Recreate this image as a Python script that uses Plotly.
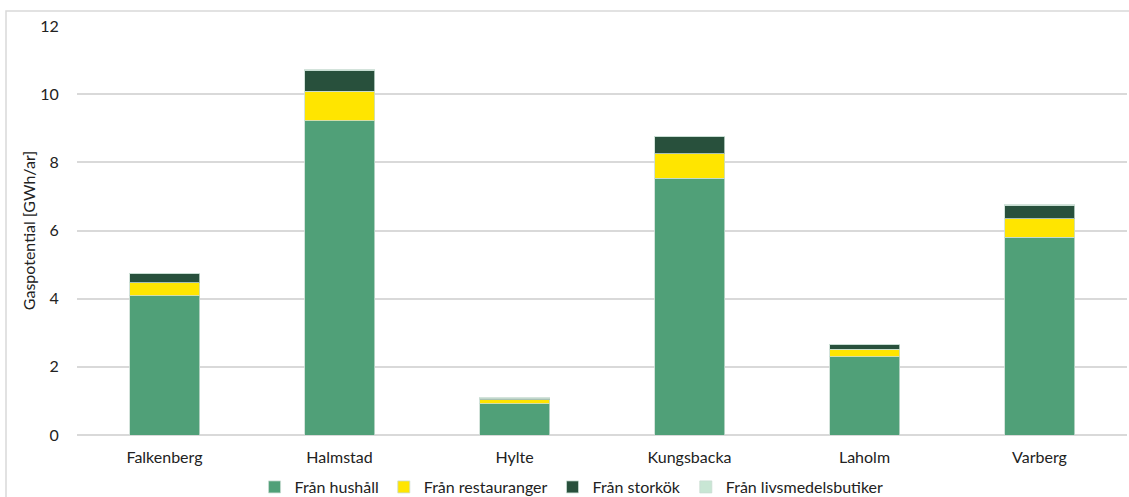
import plotly.graph_objects as go

kommuner = ["Falkenberg", "Halmstad", "Hylte", "Kungsbacka", "Laholm", "Varberg"]
hushall = [4.08, 9.22, 0.91, 7.54, 2.30, 5.80]
restauranger = [0.38, 0.86, 0.12, 0.71, 0.21, 0.54]
storkok = [0.27, 0.61, 0.05, 0.50, 0.14, 0.39]
livsmedelsbutiker = [0.02, 0.02, 0.01, 0.02, 0.02, 0.02]

series = [
    ("Från hushåll", hushall, "#50A078"),
    ("Från restauranger", restauranger, "#FFE500"),
    ("Från storkök", storkok, "#28503C"),
    ("Från livsmedelsbutiker", livsmedelsbutiker, "#C8E6D4"),
]

fig = go.Figure()
for name, vals, color in series:
    fig.add_trace(go.Bar(
        x=kommuner, y=vals, name=name,
        marker=dict(color=color, line=dict(color="rgba(200,220,210,0.8)", width=1)),
    ))

W, H = 1129, 497
ml, mr, mt, mb = 77, 2, 26, 62
pw, ph = W - ml - mr, H - mt - mb

fig.update_layout(
    width=W, height=H,
    barmode="stack", bargap=0.6,
    plot_bgcolor="white", paper_bgcolor="white",
    margin=dict(l=ml, r=mr, t=mt, b=mb, autoexpand=False),
    font=dict(family="Lato", size=16, color="#222222"),
    showlegend=True,
    legend=dict(orientation="h", x=0.471, xanchor="center", y=-(487 - 435) / ph,
                yanchor="middle", font=dict(size=16), traceorder="normal",
                itemwidth=30, tracegroupgap=0),
    xaxis=dict(showgrid=False, showline=False, ticks="outside", ticklen=8,
               tickcolor="rgba(0,0,0,0)", tickfont=dict(size=16)),
    yaxis=dict(range=[0, 12], dtick=2, showgrid=True, gridcolor="#D9D9D9",
               gridwidth=1.5, zeroline=True, zerolinecolor="#D9D9D9", zerolinewidth=1.5,
               ticks="outside", ticklen=14, tickcolor="rgba(0,0,0,0)",
               tickfont=dict(size=16),
               title=dict(text="Gaspotential [GWh/ar]", font=dict(size=16), standoff=0)),
    shapes=[dict(type="rect", xref="paper", yref="paper",
                 x0=(6 - ml) / pw, x1=(1135 - ml) / pw,
                 y0=-(510 - 435) / ph, y1=(435 - 11) / ph,
                 line=dict(color="#D9D9D9", width=1.5), layer="below")],
)

fig.write_html("out.html")
